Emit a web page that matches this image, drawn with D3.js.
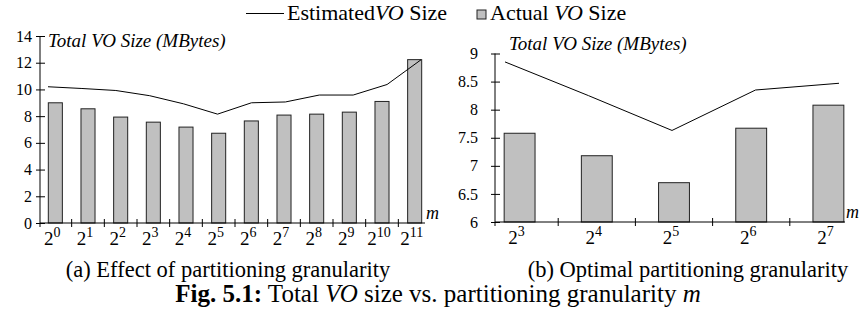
<!DOCTYPE html>
<html>
<head>
<meta charset="utf-8">
<script src="https://cdn.jsdelivr.net/npm/d3@7"></script>
<style>
body { margin: 0; background: #fff; }
</style>
</head>
<body>
<svg width="859" height="320"></svg>
<script>
// panel (a): m = 2^0 .. 2^11
var expsA = [0, 1, 2, 3, 4, 5, 6, 7, 8, 9, 10, 11];
var actualA = [9.0, 8.55, 7.93, 7.55, 7.18, 6.72, 7.64, 8.08, 8.15, 8.3, 9.1, 12.23];
var estimatedA = [10.2, 10.07, 9.92, 9.53, 8.92, 8.15, 9.0, 9.06, 9.58, 9.58, 10.37, 12.22];
var ticksA = [0, 2, 4, 6, 8, 10, 12, 14];

// panel (b): m = 2^3 .. 2^7
var expsB = [3, 4, 5, 6, 7];
var actualB = [7.58, 7.18, 6.7, 7.67, 8.08];
var estimatedB = [8.85, 8.25, 7.63, 8.35, 8.47];
var ticksB = [6, 6.5, 7, 7.5, 8, 8.5, 9];

var serif = '"Liberation Serif"';
var svg = d3.select("svg").attr("font-family", serif);
var barFill = "#c0c0c0";

function drawPanel(p) {
	var g = svg.append("g");

	var y = d3.scaleLinear()
		.domain([p.ticks[0], p.ticks[p.ticks.length - 1]])
		.range([p.bottom, p.top]);

	var x = d3.scaleBand()
		.domain(p.exps)
		.range(p.bandRange)
		.paddingInner(p.pad)
		.paddingOuter(p.pad / 2);

	// the estimated line sits on its own, slightly wider, spacing
	var xl = d3.scalePoint()
		.domain(p.exps)
		.range(p.lineRange);

	var data = p.exps.map(function (e, i) {
		return { e: e, actual: p.actual[i], est: p.est[i] };
	});

	// bars
	g.selectAll("rect.bar")
		.data(data)
		.enter().append("rect")
		.attr("class", "bar")
		.attr("x", function (d) { return x(d.e); })
		.attr("width", x.bandwidth())
		.attr("y", function (d) { return y(d.actual); })
		.attr("height", function (d) { return y(p.ticks[0]) - y(d.actual); })
		.attr("fill", barFill)
		.attr("stroke", "#222")
		.attr("stroke-width", 1);

	var line = d3.line()
		.x(function (d) { return xl(d.e); })
		.y(function (d) { return y(d.est); });

	g.append("path")
		.datum(data)
		.attr("fill", "none")
		.attr("stroke", "#000")
		.attr("stroke-width", 1)
		.attr("d", line);

	// y axis, ticks cross the axis line
	var yAxis = d3.axisLeft(y)
		.tickValues(p.ticks)
		.tickFormat(function (d) { return d; })
		.tickSizeInner(4)
		.tickSizeOuter(0)
		.tickPadding(p.tickPad);

	g.append("g")
		.attr("transform", "translate(" + p.axisX + ",0)")
		.call(yAxis)
		.attr("font-family", serif)
		.attr("font-size", 16)
		.call(function (a) {
			a.select(".domain").remove();
			a.selectAll(".tick line").attr("x1", 5).attr("stroke", "#000");
			a.selectAll(".tick text").attr("fill", "#000");
		});

	g.append("line")
		.attr("x1", p.axisX).attr("x2", p.axisX)
		.attr("y1", y(p.ticks[p.ticks.length - 1]))
		.attr("y2", y(p.ticks[0]) + 4)
		.attr("stroke", "#000");

	// x axis
	var y0 = y(p.ticks[0]);
	g.append("line")
		.attr("x1", p.axisX).attr("x2", p.axisEnd)
		.attr("y1", y0).attr("y2", y0)
		.attr("stroke", "#000");

	g.selectAll("line.xt")
		.data(p.exps.slice(1))
		.enter().append("line")
		.attr("class", "xt")
		.attr("x1", function (d) { return x(d) - x.step() * x.paddingInner() / 2; })
		.attr("x2", function (d) { return x(d) - x.step() * x.paddingInner() / 2; })
		.attr("y1", y0 - 4).attr("y2", y0 + 4)
		.attr("stroke", "#000");

	var lab = g.selectAll("text.xl")
		.data(p.exps)
		.enter().append("text")
		.attr("class", "xl")
		.attr("x", function (d) { return x(d) + x.bandwidth() / 2 - 3; })
		.attr("y", y0 + 22)
		.attr("text-anchor", "middle")
		.attr("font-size", 19);
	lab.append("tspan").text("2");
	lab.append("tspan")
		.attr("dy", -8)
		.attr("font-size", 14)
		.text(function (d) { return d; });

	g.append("text")
		.attr("x", p.axisEnd + 1)
		.attr("y", y0 - 4)
		.attr("font-size", 18)
		.attr("font-style", "italic")
		.text("m");

	// axis title
	g.append("text")
		.attr("x", p.titleX)
		.attr("y", p.titleY)
		.attr("font-size", 19)
		.attr("font-style", "italic")
		.text("Total VO Size (MBytes)");

	g.append("text")
		.attr("x", p.capX)
		.attr("y", 277)
		.attr("text-anchor", "middle")
		.attr("font-size", 22.5)
		.text(p.caption);
}

drawPanel({
	exps: expsA, actual: actualA, est: estimatedA, ticks: ticksA,
	top: 36, bottom: 223,
	bandRange: [39, 431], pad: 0.57,
	lineRange: [48, 421],
	axisX: 40, axisEnd: 425, tickPad: 4,
	titleX: 48, titleY: 47,
	capX: 228, caption: "(a) Effect of partitioning granularity"
});

drawPanel({
	exps: expsB, actual: actualB, est: estimatedB, ticks: ticksB,
	top: 53.5, bottom: 222,
	bandRange: [481, 867], pad: 0.6,
	lineRange: [505, 839],
	axisX: 495, axisEnd: 845, tickPad: 13,
	titleX: 509, titleY: 50,
	capX: 688, caption: "(b) Optimal partitioning granularity"
});

// legend
var legend = svg.append("g").attr("font-size", 22);
legend.append("line")
	.attr("x1", 246).attr("x2", 284)
	.attr("y1", 13.5).attr("y2", 13.5)
	.attr("stroke", "#000");
var t1 = legend.append("text").attr("x", 287).attr("y", 20);
t1.append("tspan").text("Estimated");
t1.append("tspan").attr("font-style", "italic").text("VO");
t1.append("tspan").text(" Size");

legend.append("rect")
	.attr("x", 477).attr("y", 10)
	.attr("width", 9).attr("height", 9)
	.attr("fill", barFill)
	.attr("stroke", "#222");
var t2 = legend.append("text").attr("x", 490).attr("y", 20);
t2.append("tspan").text("Actual ");
t2.append("tspan").attr("font-style", "italic").text("VO");
t2.append("tspan").text(" Size");

// figure caption
var fig = svg.append("text")
	.attr("x", 438).attr("y", 302)
	.attr("text-anchor", "middle")
	.attr("font-size", 25);
fig.append("tspan").attr("font-weight", "bold").text("Fig. 5.1:");
fig.append("tspan").text(" Total ");
fig.append("tspan").attr("font-style", "italic").text("VO");
fig.append("tspan").text(" size vs. partitioning granularity ");
fig.append("tspan").attr("font-style", "italic").text("m");
</script>
</body>
</html>
